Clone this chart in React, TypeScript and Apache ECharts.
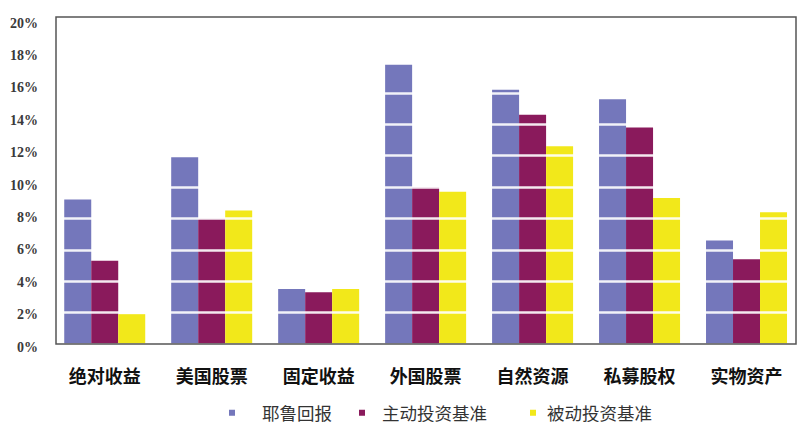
import React, { useEffect, useRef } from "react";
import * as echarts from "echarts";

const categories = ["绝对收益", "美国股票", "固定收益", "外国股票", "自然资源", "私募股权", "实物资产"];
const seriesNames = ["耶鲁回报", "主动投资基准", "被动投资基准"];
const yaleReturn = [9.2, 11.9, 3.5, 17.8, 16.2, 15.6, 6.6];
const activeBenchmark = [5.3, 8.0, 3.3, 10.0, 14.6, 13.8, 5.4];
const passiveBenchmark = [1.9, 8.5, 3.5, 9.7, 12.6, 9.3, 8.4];
const yTicks = [0, 2, 4, 6, 8, 10, 12, 14, 16, 18, 20];

const colors = ["#7477bb", "#8a1a5c", "#f2e81a"];

function legendIcon(width: number) {
  const w = width - 0.1;
  return `path://M0 0h6v6h-6z M${w} 2.9h0.1v0.1h-0.1z`;
}

export default function App() {
  const ref = useRef<HTMLDivElement>(null);
  useEffect(() => {
    if (!ref.current) return;
    const chart = echarts.init(ref.current, null, { renderer: "svg" });
    const values = [yaleReturn, activeBenchmark, passiveBenchmark];
    const legendLefts = [224, 354, 525];
    const legendWidths = [28, 18, 12];
    chart.setOption({
      animation: false,
      backgroundColor: "#ffffff",
      grid: [
        {
          left: 56, top: 17, width: 740, height: 327,
          show: true, borderColor: "#555555", borderWidth: 1.5,
          backgroundColor: "transparent", z: 10,
        },
        { left: 51.25, top: 16, width: 752.5, height: 328 },
        { left: 40, top: 23, width: 1, height: 324 },
      ],
      xAxis: [
        { gridIndex: 0, type: "value", show: false },
        {
          gridIndex: 1, type: "category", data: categories,
          axisLine: { show: false }, axisTick: { show: false },
          axisLabel: {
            margin: 22, fontSize: 18, fontWeight: "bold",
            fontFamily: "Noto Sans CJK SC", color: "#111111",
          },
        },
        { gridIndex: 2, type: "value", show: false },
      ],
      yAxis: [
        { gridIndex: 0, type: "value", show: false },
        {
          gridIndex: 1, type: "value", min: 0, max: 20.9, interval: 2, z: 5,
          axisLine: { show: false }, axisTick: { show: false },
          axisLabel: { show: false },
          splitLine: { show: true, lineStyle: { color: "#ffffff", width: 2.5, opacity: 0.9 } },
        },
        {
          gridIndex: 2, type: "value", min: 0, max: 20, interval: 2,
          axisLine: { show: false }, axisTick: { show: false },
          splitLine: { show: false },
          axisLabel: {
            margin: 2, fontSize: 14, fontWeight: "bold",
            fontFamily: "Liberation Serif", color: "#3a3a3a",
            formatter: (v: number) => (yTicks.includes(v) ? `${v}%` : ""),
          },
        },
      ],
      legend: seriesNames.map((name, i) => ({
        data: [name],
        left: legendLefts[i],
        top: 399,
        itemWidth: legendWidths[i],
        itemHeight: 6,
        icon: legendIcon(legendWidths[i]),
        textStyle: { fontSize: 17.5, fontFamily: "Noto Sans CJK SC", color: "#333333" },
      })),
      series: seriesNames.map((name, i) => ({
        name,
        type: "bar",
        xAxisIndex: 1,
        yAxisIndex: 1,
        data: values[i],
        barWidth: 27,
        barGap: "0%",
        itemStyle: { color: colors[i] },
      })),
    });
    return () => chart.dispose();
  }, []);
  return (
    <div
      ref={ref}
      style={{ position: "fixed", left: 0, top: 0, width: 800, height: 432, background: "#fff" }}
    />
  );
}
